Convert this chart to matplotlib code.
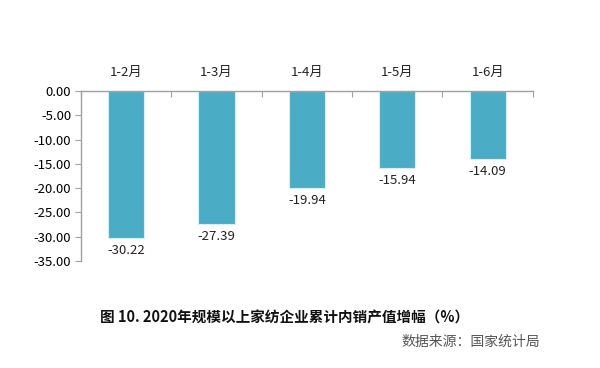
import numpy as np
import matplotlib.pyplot as plt

plt.rcParams['font.family'] = ['Noto Sans CJK SC', 'DejaVu Sans']

# cumulative domestic sales growth, %
periods = ['1-2月', '1-3月', '1-4月', '1-5月', '1-6月']
growth = [-30.22, -27.39, -19.94, -15.94, -14.09]
yticks = [0, -5, -10, -15, -20, -25, -30, -35]

fig = plt.figure(figsize=(6, 3.68), dpi=100)
ax = fig.add_axes([0.135, 0.2908, 0.753, 0.4619])

x = np.arange(len(periods))
ax.bar(x, growth, width=0.4, color='#4BACC6', edgecolor='#D8EEF4', linewidth=0.8)

for xi, v in zip(x, growth):
    ax.text(xi, v - 1.2, f'{v:.2f}', ha='center', va='top', fontsize=9.5, color='#222222')

ax.set_xlim(-0.5, len(periods) - 0.5)
ax.set_ylim(-35, 0)
ax.set_yticks(yticks)
ax.set_yticklabels([f'{t:.2f}' for t in yticks], fontsize=9.5)

# category labels above the zero line, tick marks between categories
ax.set_xticks(np.arange(-0.5, len(periods), 1.0))
ax.set_xticklabels([])
ax.tick_params(axis='x', direction='in', length=4, color='#A0A0A0', top=True, bottom=False)
for xi, p in zip(x, periods):
    ax.text(xi, 2.4, p, ha='center', va='bottom', fontsize=9.5, color='#222222')

ax.tick_params(axis='y', direction='out', length=4, color='#A0A0A0', pad=3)
for s in ['right', 'bottom']:
    ax.spines[s].set_visible(False)
for s in ['left', 'top']:
    ax.spines[s].set_color('#A0A0A0')
    ax.spines[s].set_linewidth(1.0)

fig.text(0.475, 0.136, '图 10. 2020年规模以上家纺企业累计内销产值增幅（%）',
         ha='center', va='center', fontsize=10.5, fontweight='bold', color='#111111')
fig.text(0.9, 0.071, '数据来源：国家统计局', ha='right', va='center',
         fontsize=10, color='#555555')

fig.savefig('out.png', dpi=100)
